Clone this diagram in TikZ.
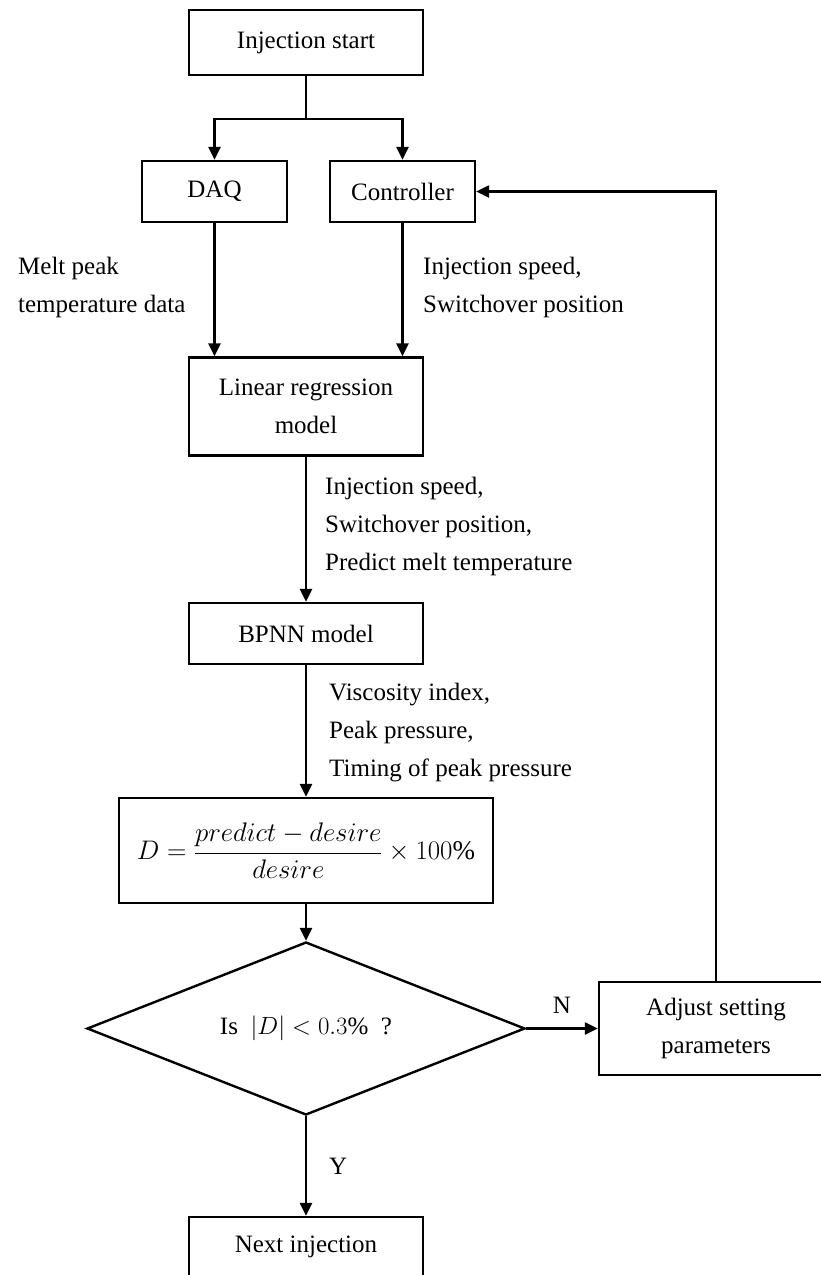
\documentclass[tikz,border=0pt]{standalone}
\usepackage{fontspec}
\setmainfont{Liberation Serif}
\usetikzlibrary{arrows.meta,shapes.geometric}
\tikzset{
  every node/.style={font=\fontsize{25}{38}\selectfont, inner sep=0pt},
  box/.style={draw, line width=2.4pt, minimum width=234pt, align=center},
  smallbox/.style={draw, line width=2.4pt, minimum width=145pt, minimum height=61pt},
  decision/.style={draw, line width=2.4pt, diamond, aspect=2.53, minimum width=438pt, minimum height=173pt},
  lbl/.style={anchor=west, align=left},
  conn/.style={line width=2.4pt},
  arr/.style={line width=2.4pt, -{Triangle[length=13pt,width=12pt]}}
}
\begin{document}
\begin{tikzpicture}[x=1pt,y=-1pt]
\useasboundingbox (0,0) rectangle (821,1275);
\clip (0,0) rectangle (821,1275);
% boxes
\node[box, minimum height=65pt] (start) at (306,42.5) {Injection start};
\node[smallbox] (daq) at (214.5,191.5) {DAQ};
\node[smallbox] (ctrl) at (402.5,191.5) {Controller};
\node[box, minimum height=98pt] (lr) at (306,406.5) {Linear regression\\model};
\node[box, minimum height=61pt] (bpnn) at (306,633.5) {BPNN model};
\node[draw, line width=2.4pt, minimum width=374pt, minimum height=105pt] (form) at (306,850.5)
  {\scalebox{1.08}{$\displaystyle D=\frac{predict-desire}{desire}\times 100\%$}};
\node[decision] (dec) at (306,1028.5) {Is~ $|D|<0.3\%$~ ?};
\node[box, minimum height=93pt] (adj) at (716,1028.5) {Adjust setting\\parameters};
\node[box, minimum height=66pt] (next) at (306,1250) {};
\node (nexttxt) at (306,1247) {Next injection};
% labels
\node[lbl] (l1) at (18,287) {Melt peak\\temperature data};
\node[lbl] (l2) at (423,287) {Injection speed,\\Switchover position};
\node[lbl] (l3) at (325,526.5) {Injection speed,\\Switchover position,\\Predict melt temperature};
\node[lbl] (l4) at (329,733) {Viscosity index,\\Peak pressure,\\Timing of peak pressure};
% connectors
\coordinate (split) at (306,119);
\draw[conn] (start.south) -- (split);
\draw[arr] (split) -| (daq.north);
\draw[arr] (split) -| (ctrl.north);
\draw[arr] (daq.south) -- (daq.south |- lr.north);
\draw[arr] (ctrl.south) -- (ctrl.south |- lr.north);
\draw[arr] (lr.south) -- (bpnn.north);
\draw[arr] (bpnn.south) -- (form.north);
\draw[arr] (form.south) -- (dec.north);
\draw[arr] (dec.east) -- node[above=14pt] (nlab) {N} (adj.west);
\draw[arr] (dec.south) -- node[right=22pt] (ylab) {Y} (next.north);
\draw[arr] (adj.north) |- (ctrl.east);
\end{tikzpicture}
\end{document}
